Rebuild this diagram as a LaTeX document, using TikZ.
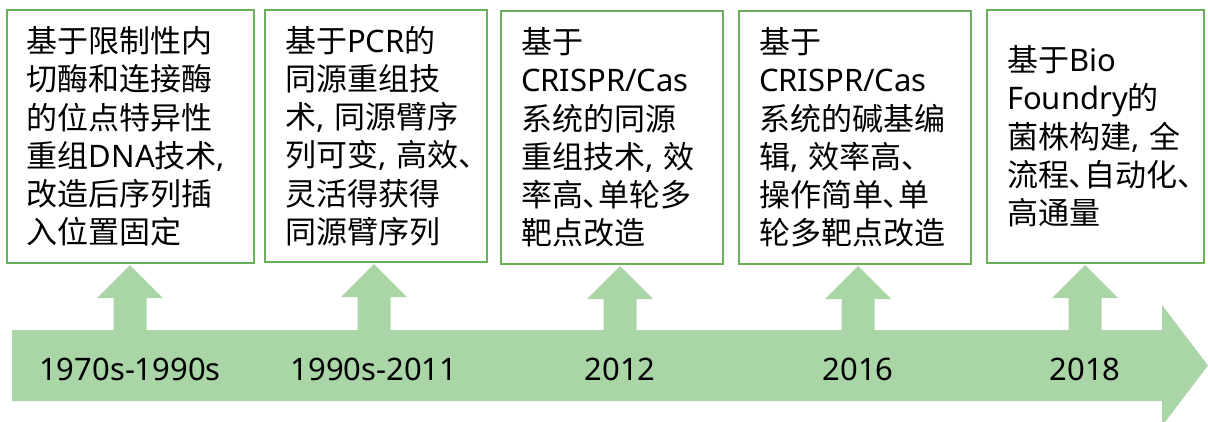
\documentclass[tikz,border=0pt]{standalone}
\usepackage{fontspec}
\setmainfont[RawFeature=+palt]{Noto Sans CJK SC}
\newfontfamily\enfont{Noto Sans}
\usepackage{xcolor}
\usepackage{tikz}
\definecolor{bandgreen}{RGB}{170,213,167}
\definecolor{boxgreen}{RGB}{106,176,88}
\begin{document}
\begin{tikzpicture}[x=1pt, y=-1pt,
  stage/.style={draw=boxgreen, line width=2pt, fill=white, align=left, inner xsep=20pt, inner ysep=0pt, minimum height=253pt, font=\fontsize{31}{38.3}\selectfont},
  yearlab/.style={font=\enfont\fontsize{31}{37}\selectfont, inner sep=0pt}]
\useasboundingbox (0,0) rectangle (1208,421);
\clip (0,0) rectangle (1208,421);
\fill[bandgreen] (12,330) -- (1162,330) -- (1162,305) -- (1208,365.5) -- (1162,426) -- (1162,401) -- (12,401) -- cycle;
\node[stage, text width=207pt] (box1) at (130.5,136.5) {基于限制性内\\切酶和连接酶\\的位点特异性\\重组{\enfont DNA}技术{\enfont ,}\\改造后序列插\\入位置固定};
\node[stage, text width=182pt, minimum height=252pt] (box2) at (376,136) {基于{\enfont PCR}的\\同源重组技\\术{\enfont ,~}同源臂序\\列可变{\enfont ,~}高效、\\灵活得获得\\同源臂序列};
\node[stage, text width=182pt] (box3) at (612,137.5) {基于\\{\enfont CRISPR/Cas}\\系统的同源\\重组技术{\enfont ,~}效\\率高、单轮多\\靶点改造};
\node[stage, text width=192pt] (box4) at (855,137.5) {基于\\{\enfont CRISPR/Cas}\\系统的碱基编\\辑{\enfont ,~}效率高、\\操作简单、单\\轮多靶点改造};
\node[stage, text width=177pt] (box5) at (1095.5,136.5) {基于{\enfont Bio}\\{\enfont Foundry}的\\菌株构建{\enfont ,~}全\\流程、自动化、\\高通量};
\node[yearlab] (yr1) at (130,369.5) {1970s-1990s};
\node[yearlab] (yr2) at (374,369.5) {1990s-2011};
\node[yearlab] (yr3) at (620,369.5) {2012};
\node[yearlab] (yr4) at (858,369.5) {2016};
\node[yearlab] (yr5) at (1085,369.5) {2018};
\foreach \i in {1,...,5}
  \fill[bandgreen] (yr\i |- box\i.south) ++(0,1) -- ++(33,33) -- ++(-16.5,0) -- ++(0,36) -- ++(-33,0) -- ++(0,-36) -- ++(-16.5,0) -- cycle;
\end{tikzpicture}
\end{document}
